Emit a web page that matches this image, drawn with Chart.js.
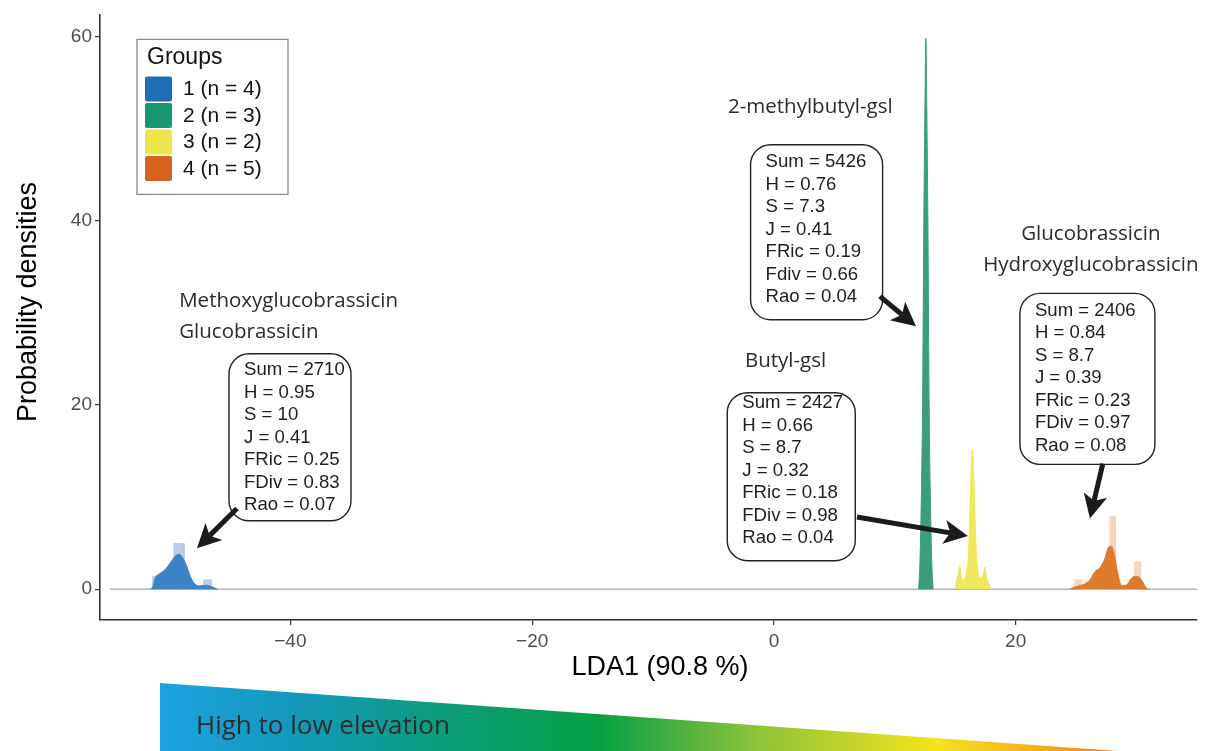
<!DOCTYPE html>
<html>
<head>
<meta charset="utf-8">
<script src="https://cdn.jsdelivr.net/npm/chart.js@4.4.1/dist/chart.umd.min.js"></script>
<style>
  html, body { margin: 0; padding: 0; background: #ffffff; }
  #wrap { width: 1205px; height: 751px; position: relative; }
  canvas { display: block; }
</style>
</head>
<body>
<div id="wrap"><canvas id="chart" width="1205" height="751"></canvas></div>
<script>
// ---------- data ----------
const xTickValues = [-40, -20, 0, 20];
const yTickValues = [0, 20, 40, 60];

const groupNames = ['1 (n = 4)', '2 (n = 3)', '3 (n = 2)', '4 (n = 5)'];

// kernel density outline of each group: LDA1 score and density
const g1X = [-51.55, -51.34, -51.2, -50.79, -50.37, -49.96, -49.55, -49.21, -48.91, -48.58, -48.25, -47.89, -47.48, -47.0, -46.51, -46.05];
const g1Y = [0, 0.4, 1.15, 1.7, 2.1, 2.8, 3.55, 3.78, 3.4, 2.5, 1.3, 0.54, 0.35, 0.43, 0.25, 0];

const g2X = [11.97, 12.07, 12.17, 12.3, 12.39, 12.49, 12.57, 12.65, 12.75, 12.84, 12.97, 13.07, 13.17];
const g2Y = [0, 2.5, 8, 20, 38, 52, 59.8, 52, 38, 20, 8, 2.5, 0];

const g3X = [15.0, 15.1, 15.25, 15.38, 15.5, 15.7, 15.95, 16.1, 16.22, 16.32, 16.42, 16.52, 16.62, 16.75, 16.9, 17.1, 17.3, 17.45, 17.6, 17.8, 17.95];
const g3Y = [0, 0.9, 1.6, 2.6, 1.4, 1.0, 2.0, 4.0, 9.0, 13.5, 15.2, 13.0, 8.5, 4.0, 1.8, 1.2, 1.6, 2.4, 1.2, 0.5, 0];

const g4X = [24.48, 24.9, 25.45, 26.14, 26.55, 26.96, 27.37, 27.71, 27.93, 28.2, 28.45, 28.76, 29.17, 29.59, 30.02, 30.41, 30.83, 31.0];
const g4Y = [0, 0.25, 0.43, 1.0, 1.9, 2.3, 3.3, 4.6, 4.65, 3.5, 1.7, 0.4, 0.45, 1.2, 1.4, 1.0, 0.1, 0];

// histogram bins drawn behind the densities: left edge, right edge, height
const h1Left = [-51.4, -49.63, -47.17];
const h1Right = [-51.05, -48.8, -46.56];
const h1Height = [1.4, 4.95, 1.0];
const h4Left = [24.9, 27.79, 29.85];
const h4Right = [25.45, 28.26, 30.33];
const h4Height = [1.0, 7.9, 2.95];

// diversity statistics per group
const statSum = [2710, 5426, 2427, 2406];
const statH = [0.95, 0.76, 0.66, 0.84];
const statS = [10, 7.3, 8.7, 8.7];
const statJ = [0.41, 0.41, 0.32, 0.39];
const statFRic = [0.25, 0.19, 0.18, 0.23];
const statFDiv = [0.83, 0.66, 0.98, 0.97];
const statRao = [0.07, 0.04, 0.04, 0.08];
const fdivName = ['FDiv', 'Fdiv', 'FDiv', 'FDiv'];

// dominant compounds per group
const compoundNames = [
  ['Methoxyglucobrassicin', 'Glucobrassicin'],
  ['2-methylbutyl-gsl'],
  ['Butyl-gsl'],
  ['Glucobrassicin', 'Hydroxyglucobrassicin']
];

// ---------- styles ----------
const legendColors = ['#1f6eb6', '#17976f', '#ece54c', '#d5621d'];
const densityColors = ['#3b82c6', '#3a9d7d', '#efe85e', '#df7a2d'];
const histColors = ['rgba(182, 198, 232, 0.9)', null, null, 'rgba(244, 212, 186, 0.95)'];

const SANS = '"Liberation Sans", Arial, Helvetica, sans-serif';
const HUMAN = '"Open Sans", "Noto Sans", sans-serif';

// label layout (data units for anchors, pixels for sizes)
const labelLayout = [
  { titleX: -49.2, titleY: 31.24, titleAlign: 'left', boxX: -45.08, boxY: 25.55, boxW: 122, boxH: 167, textDy: 16.5,
    arrowFrom: [-44.42, 8.76], arrowTo: [-47.73, 4.43] },
  { titleX: -3.8, titleY: 52.3, titleAlign: 'left', boxX: -1.93, boxY: 48.25, boxW: 132, boxH: 175, textDy: 17.5,
    arrowFrom: [8.77, 31.78], arrowTo: [11.75, 28.54] },
  { titleX: -2.4, titleY: 24.76, titleAlign: 'left', boxX: -3.86, boxY: 21.33, boxW: 128, boxH: 168, textDy: 10.5,
    arrowFrom: [6.87, 7.84], arrowTo: [16.05, 5.78] },
  { titleX: 26.22, titleY: 38.49, titleAlign: 'center', boxX: 20.35, boxY: 32.11, boxW: 135, boxH: 171, textDy: 17,
    arrowFrom: [27.21, 13.62], arrowTo: [26.14, 7.68] }
];

// ---------- helpers ----------
const toPoints = (xs, ys) => xs.map((x, i) => ({ x: x, y: ys[i] }));
// outline of a run of histogram bars as corner points
function barOutline(L, R, H) {
  const pts = [];
  L.forEach((l, i) => {
    pts.push({ x: l, y: 0 }, { x: l, y: H[i] }, { x: R[i], y: H[i] }, { x: R[i], y: 0 });
  });
  return pts;
}
const fmtMinus = v => (v < 0 ? '\u2212' + Math.abs(v) : String(v));

function roundRect(ctx, x, y, w, h, r) {
  ctx.beginPath();
  ctx.moveTo(x + r, y);
  ctx.lineTo(x + w - r, y);
  ctx.arcTo(x + w, y, x + w, y + r, r);
  ctx.lineTo(x + w, y + h - r);
  ctx.arcTo(x + w, y + h, x + w - r, y + h, r);
  ctx.lineTo(x + r, y + h);
  ctx.arcTo(x, y + h, x, y + h - r, r);
  ctx.lineTo(x, y + r);
  ctx.arcTo(x, y, x + r, y, r);
  ctx.closePath();
}

function drawArrow(ctx, x0, y0, x1, y1) {
  const dx = x1 - x0, dy = y1 - y0, len = Math.hypot(dx, dy);
  const ux = dx / len, uy = dy / len;
  const head = 24, half = 12, notch = 6;
  const bx = x1 - ux * head, by = y1 - uy * head;
  const nx = x1 - ux * (head - notch), ny = y1 - uy * (head - notch);
  ctx.save();
  ctx.strokeStyle = '#1b1b1b';
  ctx.fillStyle = '#1b1b1b';
  ctx.lineWidth = 5;
  ctx.beginPath();
  ctx.moveTo(x0, y0);
  ctx.lineTo(nx, ny);
  ctx.stroke();
  ctx.beginPath();
  ctx.moveTo(x1, y1);
  ctx.lineTo(bx - uy * half, by + ux * half);
  ctx.lineTo(nx, ny);
  ctx.lineTo(bx + uy * half, by - ux * half);
  ctx.closePath();
  ctx.fill();
  ctx.restore();
}

// ---------- datasets ----------
const histSets = [
  { label: 'hist 1', data: barOutline(h1Left, h1Right, h1Height), backgroundColor: histColors[0] },
  { label: 'hist 4', data: barOutline(h4Left, h4Right, h4Height), backgroundColor: histColors[3] }
].map(s => Object.assign(s, {
  fill: 'origin', tension: 0, borderWidth: 1, borderColor: s.backgroundColor, pointRadius: 0
}));

const densitySets = [[g1X, g1Y], [g2X, g2Y], [g3X, g3Y], [g4X, g4Y]].map((d, i) => ({
  label: groupNames[i],
  data: toPoints(d[0], d[1]),
  fill: 'origin',
  backgroundColor: densityColors[i],
  borderColor: densityColors[i],
  borderWidth: 1,
  pointRadius: 0,
  cubicInterpolationMode: 'monotone'
}));

// ---------- decorations ----------
const decor = {
  id: 'decor',
  beforeDatasetsDraw(chart) {
    const { ctx, chartArea, scales } = chart;
    const y0 = scales.y.getPixelForValue(0);
    ctx.save();
    ctx.strokeStyle = '#b4b4b4';
    ctx.lineWidth = 1.5;
    ctx.beginPath();
    ctx.moveTo(chartArea.left + 10, y0);
    ctx.lineTo(chartArea.right, y0);
    ctx.stroke();
    ctx.restore();
  },
  afterDatasetsDraw(chart) {
    const { ctx, chartArea, scales } = chart;
    const sx = v => scales.x.getPixelForValue(v);
    const sy = v => scales.y.getPixelForValue(v);

    // compound titles, statistic boxes and arrows
    labelLayout.forEach((L, g) => {
      ctx.save();
      ctx.fillStyle = '#2b2b2b';
      ctx.font = '20.5px ' + HUMAN;
      ctx.textAlign = L.titleAlign;
      ctx.textBaseline = 'middle';
      compoundNames[g].forEach((t, k) => ctx.fillText(t, sx(L.titleX), sy(L.titleY) + k * 30.5));

      const bx = sx(L.boxX), by = sy(L.boxY);
      roundRect(ctx, bx, by, L.boxW, L.boxH, 20);
      ctx.fillStyle = '#ffffff';
      ctx.fill();
      ctx.strokeStyle = '#222222';
      ctx.lineWidth = 1.4;
      ctx.stroke();

      const lines = [
        'Sum = ' + statSum[g],
        'H = ' + statH[g],
        'S = ' + statS[g],
        'J = ' + statJ[g],
        'FRic = ' + statFRic[g],
        fdivName[g] + ' = ' + statFDiv[g],
        'Rao = ' + statRao[g]
      ];
      ctx.fillStyle = '#1e1e1e';
      ctx.font = '18.6px ' + SANS;
      ctx.textAlign = 'left';
      lines.forEach((t, k) => ctx.fillText(t, bx + 15, by + L.textDy + k * 22.5));
      ctx.restore();

      drawArrow(ctx, sx(L.arrowFrom[0]), sy(L.arrowFrom[1]), sx(L.arrowTo[0]), sy(L.arrowTo[1]));
    });

    // legend
    const lx = chartArea.left + 37, ly = chartArea.top + 25;
    ctx.save();
    ctx.fillStyle = '#ffffff';
    ctx.fillRect(lx, ly, 151, 155);
    ctx.strokeStyle = '#8c8c8c';
    ctx.lineWidth = 1.3;
    ctx.strokeRect(lx, ly, 151, 155);
    ctx.fillStyle = '#111111';
    ctx.textAlign = 'left';
    ctx.textBaseline = 'middle';
    ctx.font = '23px ' + SANS;
    ctx.fillText('Groups', lx + 10, ly + 18);
    ctx.font = '21px ' + SANS;
    groupNames.forEach((name, i) => {
      const top = ly + 37 + i * 26.5;
      ctx.fillStyle = legendColors[i];
      roundRect(ctx, lx + 8, top, 27, 25, 2);
      ctx.fill();
      ctx.fillStyle = '#111111';
      ctx.fillText(name, lx + 46, top + 13);
    });
    ctx.restore();
  },
  afterDraw(chart) {
    const { ctx } = chart;
    ctx.save();
    // axis titles
    ctx.fillStyle = '#000000';
    ctx.textAlign = 'center';
    ctx.textBaseline = 'middle';
    ctx.font = '27px ' + SANS;
    ctx.fillText('LDA1 (90.8 %)', 660, 668);
    ctx.translate(29, 302);
    ctx.rotate(-Math.PI / 2);
    ctx.fillText('Probability densities', 0, 0);
    ctx.restore();

    // elevation wedge under the axis
    ctx.save();
    const x0 = 160, x1 = 1118, yTop = 683, yBot = 751;
    const grad = ctx.createLinearGradient(x0, 0, x1, 0);
    grad.addColorStop(0.0, '#1ca3e2');
    grad.addColorStop(0.13, '#1499bf');
    grad.addColorStop(0.27, '#0d9c84');
    grad.addColorStop(0.46, '#07a044');
    grad.addColorStop(0.62, '#8cc23a');
    grad.addColorStop(0.81, '#f4e41c');
    grad.addColorStop(0.93, '#f0a820');
    grad.addColorStop(1.0, '#ec7d22');
    ctx.fillStyle = grad;
    ctx.beginPath();
    ctx.moveTo(x0, yTop);
    ctx.lineTo(x1, yBot);
    ctx.lineTo(x0, yBot);
    ctx.closePath();
    ctx.fill();
    ctx.fillStyle = '#2d2d2d';
    ctx.font = '26px ' + HUMAN;
    ctx.textAlign = 'left';
    ctx.textBaseline = 'middle';
    ctx.fillText('High to low elevation', 196, 727);
    ctx.restore();
  }
};

// ---------- chart ----------
// histograms come last in the list so they are painted underneath the densities
new Chart(document.getElementById('chart'), {
  type: 'line',
  data: { datasets: densitySets.concat(histSets) },
  options: {
    responsive: false,
    devicePixelRatio: 1,
    animation: false,
    layout: { padding: { top: 12, right: 8, left: 0, bottom: 0 } },
    plugins: { legend: { display: false }, tooltip: { enabled: false } },
    scales: {
      x: {
        type: 'linear',
        min: -55.75,
        max: 35.0,
        afterFit: s => { s.height = 131; },
        afterBuildTicks: s => { s.ticks = xTickValues.map(v => ({ value: v })); },
        grid: { display: true, drawOnChartArea: false, drawTicks: true, tickLength: 5, color: '#333333', lineWidth: 1.2 },
        border: { display: true, color: '#333333', width: 1.6 },
        ticks: { color: '#4d4d4d', font: { family: SANS, size: 19 }, padding: 5, maxRotation: 0, callback: v => fmtMinus(v) }
      },
      y: {
        type: 'linear',
        min: -3.35,
        max: 62.4,
        afterFit: s => { s.width = 100; },
        afterBuildTicks: s => { s.ticks = yTickValues.map(v => ({ value: v })); },
        grid: { display: true, drawOnChartArea: false, drawTicks: true, tickLength: 5, color: '#333333', lineWidth: 1.2 },
        border: { display: true, color: '#333333', width: 1.6 },
        ticks: { color: '#4d4d4d', font: { family: SANS, size: 19 }, padding: 3, callback: v => fmtMinus(v) }
      }
    }
  },
  plugins: [decor]
});
</script>
</body>
</html>
